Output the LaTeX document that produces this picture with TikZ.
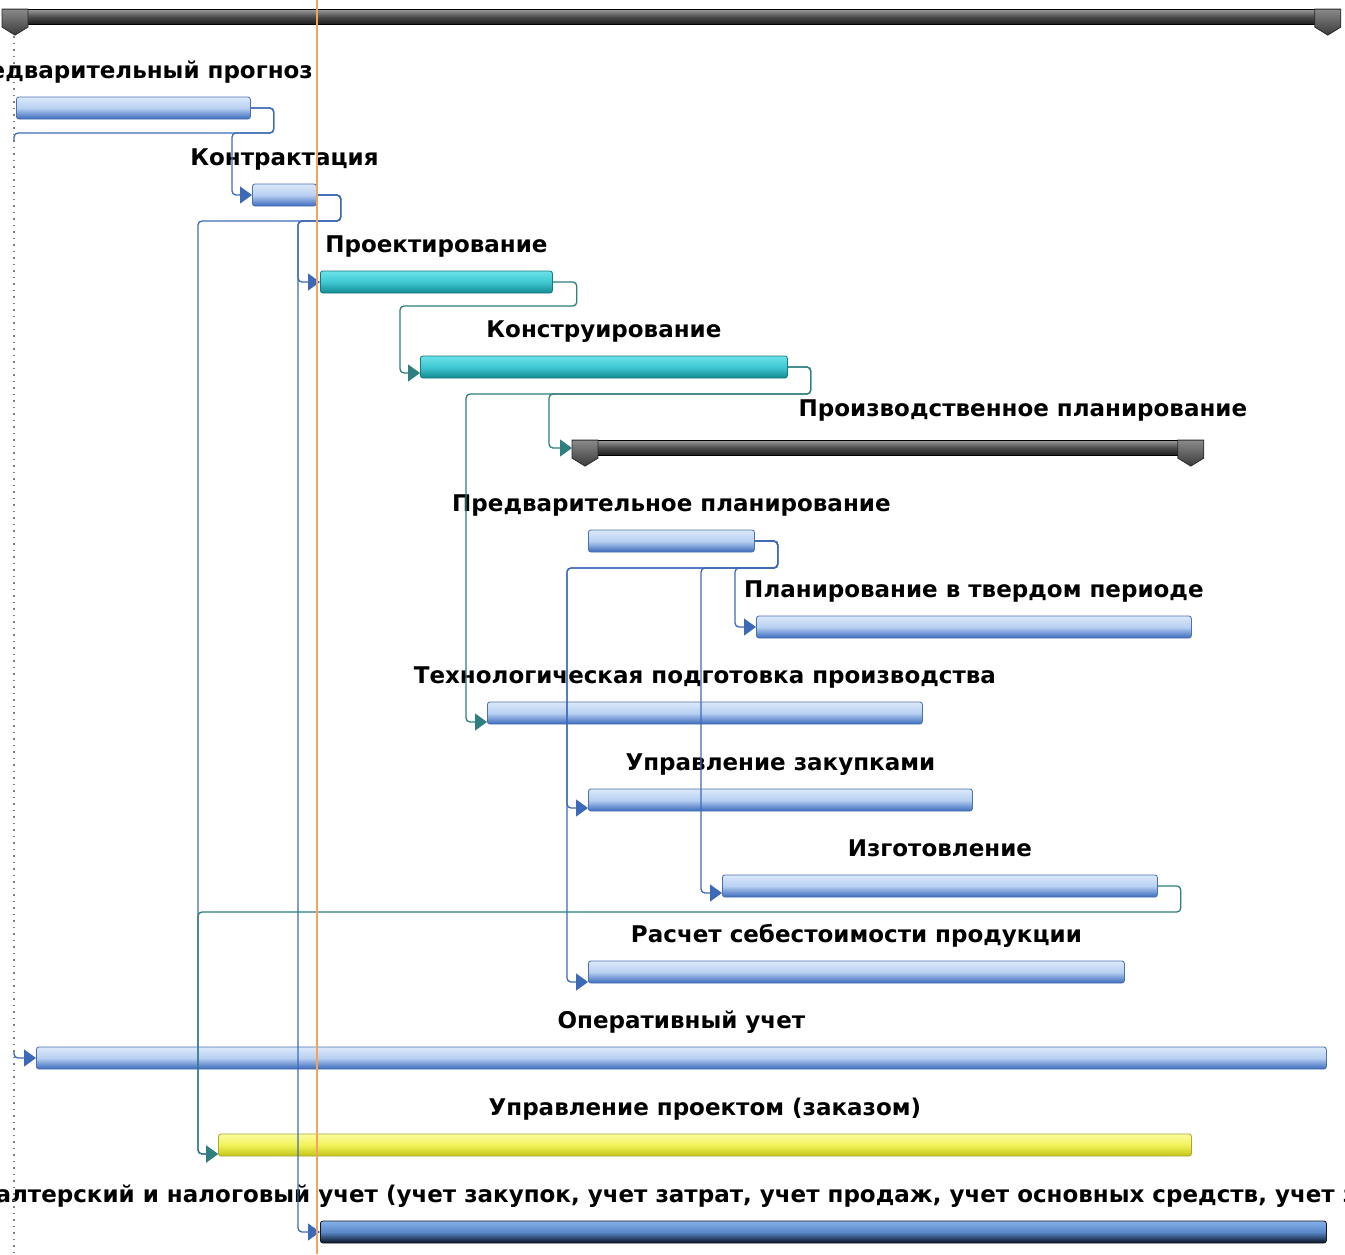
\documentclass[tikz,border=0pt]{standalone}
\usepackage{fontspec}
\setmainfont{DejaVu Sans}
\usepackage{tikz}
\usetikzlibrary{positioning, arrows.meta}

\definecolor{barline}{HTML}{4A70B0}
\definecolor{tealline}{HTML}{18787E}
\definecolor{linkblue}{HTML}{3D6AB8}
\definecolor{linkteal}{HTML}{2D7F80}
\definecolor{todayline}{HTML}{F2A35E}
\definecolor{blueA}{HTML}{DCE9FA}
\definecolor{blueB}{HTML}{B8D0F2}
\definecolor{blueC}{HTML}{3A6ABC}
\definecolor{tealA}{HTML}{6CE2EA}
\definecolor{tealB}{HTML}{3FC8D2}
\definecolor{tealC}{HTML}{128A92}
\definecolor{yellowA}{HTML}{FCFCA0}
\definecolor{yellowB}{HTML}{F2F25A}
\definecolor{yellowC}{HTML}{C4C418}
\definecolor{yellowline}{HTML}{A8A830}
\definecolor{navyA}{HTML}{86B2EA}
\definecolor{navyB}{HTML}{5A88C8}
\definecolor{navyC}{HTML}{0A1222}
\definecolor{navyline}{HTML}{101820}
\definecolor{sumA}{HTML}{9A9A9A}
\definecolor{sumB}{HTML}{4A4A4A}
\definecolor{sumC}{HTML}{1A1A1A}
\definecolor{capA}{HTML}{8A8A8A}
\definecolor{capC}{HTML}{3A3A3A}
\definecolor{capline}{HTML}{2A2A2A}

\tikzstyle{taskbar} = [draw=barline, line width=0.8pt, rounded corners=2.5pt, inner sep=0pt, minimum height=22pt, anchor=west]
\tikzstyle{bluebar} = [taskbar, top color=blueA, bottom color=blueC, middle color=blueB]
\tikzstyle{tealbar} = [taskbar, draw=tealline, top color=tealA, bottom color=tealC, middle color=tealB]
\tikzstyle{yellowbar} = [taskbar, draw=yellowline, top color=yellowA, bottom color=yellowC, middle color=yellowB]
\tikzstyle{navybar} = [taskbar, draw=navyline, top color=navyA, bottom color=navyC, middle color=navyB]
\tikzstyle{sumbar} = [draw=black, line width=0.8pt, inner sep=0pt, minimum height=15pt, anchor=west, top color=sumA, bottom color=sumC, middle color=sumB]
\tikzstyle{sumcap} = [draw=capline, line width=0.8pt, top color=capA, bottom color=capC]
\tikzstyle{lbl} = [inner sep=0pt, font=\bfseries\fontsize{23}{26}\selectfont, text height=17pt, text depth=5.5pt]
\tikzstyle{blink} = [line width=1.3pt, draw=linkblue, rounded corners=4pt, -{Triangle[length=12pt,width=17pt]}]
\tikzstyle{tlink} = [blink, draw=linkteal]

\begin{document}
\begin{tikzpicture}[x=1pt,y=-1pt]
	\useasboundingbox (0,0) rectangle (1345,1254);
	\clip (0,0) rectangle (1345,1254);
	\fill[white] (0,0) rectangle (1345,1254);

	% Project summary:
	\node[sumbar, minimum width=1338pt] (project) at (2,17) {};
	\draw[sumcap] (project.north west) -- ++(26,0) -- ++(0,18) -- ++(-13,8) -- ++(-13,-8) -- cycle;
	\draw[sumcap] (project.north east) -- ++(-26,0) -- ++(0,18) -- ++(13,8) -- ++(13,-8) -- cycle;

	% Bars:
	% Left end and length of each bar are read off the time scale
	\node[bluebar, minimum width=234pt] (prognoz) at (16,108) {};
	\node[bluebar, minimum width=64pt] (kontrakt) at (252,195) {};
	\node[tealbar, minimum width=232pt] (proekt) at (320,282) {};
	\node[tealbar, minimum width=367pt] (konstr) at (420,367) {};
	\node[sumbar, minimum width=631pt] (prodplan) at (572,448) {};
	\draw[sumcap] (prodplan.north west) -- ++(26,0) -- ++(0,18) -- ++(-13,8) -- ++(-13,-8) -- cycle;
	\draw[sumcap] (prodplan.north east) -- ++(-26,0) -- ++(0,18) -- ++(13,8) -- ++(13,-8) -- cycle;
	\node[bluebar, minimum width=166pt] (predplan) at (588,541) {};
	\node[bluebar, minimum width=435pt] (tverd) at (756,627) {};
	\node[bluebar, minimum width=435pt] (tech) at (487,713) {};
	\node[bluebar, minimum width=384pt] (zakup) at (588,800) {};
	\node[bluebar, minimum width=435pt] (izgot) at (722,886) {};
	\node[bluebar, minimum width=536pt] (raschet) at (588,972) {};
	\node[bluebar, minimum width=1290pt] (operativ) at (36,1058) {};
	\node[yellowbar, minimum width=973pt] (upravproekt) at (218,1145) {};
	\node[navybar, minimum width=1006pt] (buh) at (320,1232) {};

	% Labels:
	\node[lbl, above=12.5pt of prognoz] (lprognoz) {Предварительный прогноз};
	\node[lbl, above=12.5pt of kontrakt] (lkontrakt) {Контрактация};
	\node[lbl, above=12.5pt of proekt] (lproekt) {Проектирование};
	\node[lbl, above=12.5pt of konstr] (lkonstr) {Конструирование};
	\node[lbl, above=17.5pt of prodplan, xshift=135pt] (lprodplan) {Производственное планирование};
	\node[lbl, above=12.5pt of predplan] (lpredplan) {Предварительное планирование};
	\node[lbl, above=12.5pt of tverd] (ltverd) {Планирование в твердом периоде};
	\node[lbl, above=12.5pt of tech] (ltech) {Технологическая подготовка производства};
	\node[lbl, above=12.5pt of zakup] (lzakup) {Управление закупками};
	\node[lbl, above=12.5pt of izgot] (lizgot) {Изготовление};
	\node[lbl, above=12.5pt of raschet] (lraschet) {Расчет себестоимости продукции};
	\node[lbl, above=12.5pt of operativ] (loperativ) {Оперативный учет};
	\node[lbl, above=12.5pt of upravproekt] (lupravproekt) {Управление проектом (заказом)};
	\node[lbl, anchor=base west] (lbuh) at (-64,1202) {Бухгалтерский и налоговый учет (учет закупок, учет затрат, учет продаж, учет основных средств, учет з/п)};

	% Links:
	% Finish-to-start, drawn over the bars as in the source chart
	\draw[blink] (prognoz.east) -- ++(23,0) |- (232,133) |- (kontrakt.west);
	\draw[blink] (prognoz.east) -- ++(23,0) |- (14,133) |- (operativ.west);
	\draw[white, line width=3pt] (14,141) -- (14,1050);
	\draw[blink] (kontrakt.east) -- ++(24,0) |- (298,221) |- (proekt.west);
	\draw[blink] (kontrakt.east) -- ++(24,0) |- (298,221) |- (buh.west);
	\draw[blink] (kontrakt.east) -- ++(24,0) |- (198,221) |- ([yshift=-9pt]upravproekt.west);
	\draw[tlink] (proekt.east) -- ++(24,0) |- (400,306) |- ([yshift=-6pt]konstr.west);
	\draw[tlink] (konstr.east) -- ++(23,0) |- (549,394) |- (prodplan.west);
	\draw[tlink] (konstr.east) -- ++(23,0) |- (466,394) |- ([yshift=-9pt]tech.west);
	\draw[blink] (predplan.east) -- ++(23,0) |- (735,568) |- (tverd.west);
	\draw[blink] (predplan.east) -- ++(23,0) |- (701,568) |- ([yshift=-7pt]izgot.west);
	\draw[blink] (predplan.east) -- ++(23,0) |- (567,568) |- ([yshift=-8pt]zakup.west);
	\draw[blink] (predplan.east) -- ++(23,0) |- (567,568) |- ([yshift=-10pt]raschet.west);
	\draw[tlink] (izgot.east) -- ++(23,0) |- (198,912) |- ([yshift=-9pt]upravproekt.west);

	% Time lines:
	\draw[gray, line width=1.2pt, dash pattern=on 1.5pt off 5pt] (14,36) -- (14,1254);
	\draw[todayline, line width=1.3pt] (317,0) -- (317,1254);
\end{tikzpicture}
\end{document}
